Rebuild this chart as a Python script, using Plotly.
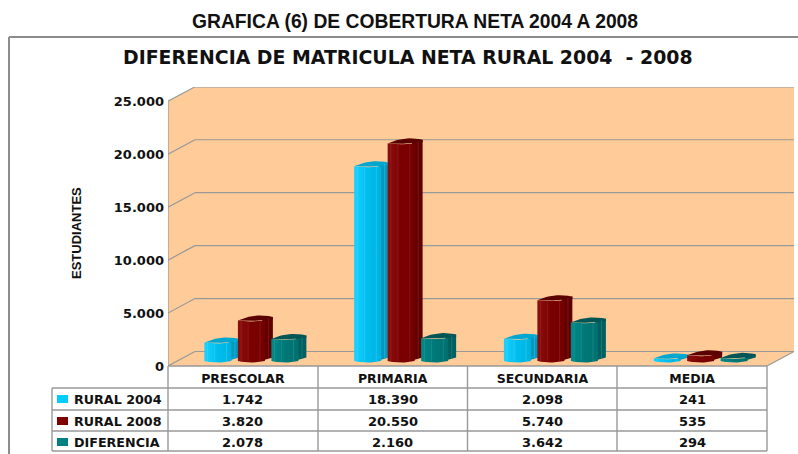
import plotly.graph_objects as go

categories = ["PRESCOLAR", "PRIMARIA", "SECUNDARIA", "MEDIA"]
series_names = ["RURAL 2004", "RURAL 2008", "DIFERENCIA"]
rural_2004 = [1742, 18390, 2098, 241]
rural_2008 = [3820, 20550, 5740, 535]
diferencia = [2078, 2160, 3642, 294]
y_ticks = [0, 5000, 10000, 15000, 20000, 25000]
y_labels = ["0", "5.000", "10.000", "15.000", "20.000", "25.000"]
table_labels = [
    ["1.742", "18.390", "2.098", "241"],
    ["3.820", "20.550", "5.740", "535"],
    ["2.078", "2.160", "3.642", "294"],
]

W, H = 798, 454
X_L, X_R, CAT_W = 168, 795, 149.75
Y_0, Y_T = 366, 87
VAL_PX = 264.7 / 25000
GRAY = "#999999"
WALL = "#FFCC99"
FONT = "DejaVu Sans"

xu = 1 / CAT_W          # category units per pixel
yu = 1 / VAL_PX         # value units per pixel
x_rng = [-0.5, -0.5 + (X_R - X_L) * xu]
y_rng = [0, (Y_0 - Y_T) * yu]
DX, DY = 27 * xu, 14.5 * yu
END = len(categories) - 0.5

fig = go.Figure()
shapes = []

def poly(pts):
    return "M" + " L".join(f"{x:.4f},{y:.2f}" for x, y in pts) + " Z"

# walls and floor
shapes.append(dict(type="path", xref="x", yref="y", layer="below", line_width=0, fillcolor=WALL,
                   path=poly([(-0.5, 0), (-0.5 + DX, DY), (END + DX, DY), (END, 0)])))
shapes.append(dict(type="path", xref="x", yref="y", layer="below", line_width=0, fillcolor=WALL,
                   path=poly([(-0.5, 0), (-0.5, 25000), (-0.5 + DX, 25000 + DY), (END + DX, 25000 + DY),
                              (END + DX, DY), (-0.5 + DX, DY)])))
for t in y_ticks:
    shapes.append(dict(type="line", xref="x", yref="y", layer="below", x0=-0.5, y0=t, x1=-0.5 + DX, y1=t + DY,
                       line=dict(color=GRAY, width=1.2)))
    shapes.append(dict(type="line", xref="x", yref="y", layer="below", x0=-0.5 + DX, y0=t + DY, x1=END + DX, y1=t + DY,
                       line=dict(color=GRAY, width=1.2)))
shapes.append(dict(type="line", xref="x", yref="y", layer="below", x0=END, y0=0, x1=END + DX, y1=DY,
                   line=dict(color=GRAY, width=1.2)))
shapes.append(dict(type="line", xref="x", yref="y", layer="below", x0=-0.5, y0=0, x1=-0.5, y1=25000,
                   line=dict(color=GRAY, width=1.2)))

# cylinders
PITCH = 33.5 * xu
BAR_W = 27 * xu
DEPTH_X, DEPTH_Y = 8 * xu, 4 * yu
BASE = 5 * yu
GROUP_START = -38.5 * xu
BULGE = 2.5 * yu
STYLES = [
    dict(front=[[0, "#1AD2FF"], [0.5, "#00BDEE"], [1, "#00B2E0"]], side="#0098BF", top="#00A8D0", rib="#66DDFF"),
    dict(front=[[0, "#8C0F0F"], [0.5, "#7A0000"], [1, "#740000"]], side="#620000", top="#5A0000", rib="#A84040"),
    dict(front=[[0, "#008A8A"], [0.5, "#007878"], [1, "#007070"]], side="#006060", top="#005555", rib="#4DA6A6"),
]
N = 16

def fill(xs, ys, **kw):
    fig.add_trace(go.Scatter(x=xs, y=ys, mode="lines", fill="toself", line=dict(width=0),
                             hoverinfo="skip", showlegend=False, **kw))

for s, values in enumerate([rural_2004, rural_2008, diferencia]):
    st = STYLES[s]
    for c, v in enumerate(values):
        x0 = c + GROUP_START + s * PITCH
        x1 = x0 + BAR_W
        top = BASE + v
        # side
        fill([x1 - BAR_W * 0.1, x1 + DEPTH_X, x1 + DEPTH_X, x1 - BAR_W * 0.1],
             [BASE + DEPTH_Y * 0.1, BASE + DEPTH_Y * 0.9, top + DEPTH_Y * 0.9, top + DEPTH_Y * 0.3],
             fillcolor=st["side"])
        # top cap
        capx, capy = [], []
        for i in range(N + 1):
            f = i / N
            bow = 4 * f * (1 - f)
            capx.append(x0 + f * (BAR_W + DEPTH_X))
            capy.append(top + DEPTH_Y * 0.9 * f + bow * DEPTH_Y * 0.75)
        for i in range(N + 1):
            f = 1 - i / N
            bow = 4 * f * (1 - f)
            capx.append(x0 + f * (BAR_W + DEPTH_X))
            capy.append(top + DEPTH_Y * 0.3 * f - bow * BULGE * 0.3)
        fill(capx, capy, fillcolor=st["top"])
        # front face
        fx, fy = [], []
        for i in range(N + 1):
            f = i / N
            fx.append(x0 + f * BAR_W)
            fy.append(top - 4 * f * (1 - f) * BULGE * 0.35)
        for i in range(N + 1):
            f = 1 - i / N
            fx.append(x0 + f * BAR_W)
            fy.append(BASE - 4 * f * (1 - f) * BULGE * 0.6)
        fill(fx, fy, fillgradient=dict(type="horizontal", colorscale=st["front"]))
        # ribs
        if v > 1000:
            for f in (0.12, 0.38, 0.82):
                fig.add_trace(go.Scatter(x=[x0 + f * BAR_W] * 2, y=[BASE, top], mode="lines",
                                         line=dict(color=st["rib"], width=0.6), opacity=0.55,
                                         hoverinfo="skip", showlegend=False))
            rx = x1 + DEPTH_X * 0.45
            fig.add_trace(go.Scatter(x=[rx] * 2, y=[BASE + DEPTH_Y * 0.7, top + DEPTH_Y * 0.6], mode="lines",
                                     line=dict(color=st["rib"], width=0.6), opacity=0.55,
                                     hoverinfo="skip", showlegend=False))

# pixel helpers for the table and frame only
def px(x):
    return x / W

def py(y):
    return 1 - y / H

def pline(x0, y0, x1, y1, width=1.4, color=GRAY):
    shapes.append(dict(type="line", xref="paper", yref="paper", x0=px(x0), y0=py(y0), x1=px(x1), y1=py(y1),
                       line=dict(color=color, width=width)))

COLS = [168, 318, 467.5, 617, 767]
ROWS = [366, 388, 410, 431, 451]
LEFT = 52
for x in COLS:
    pline(x, ROWS[0], x, ROWS[-1])
pline(LEFT, ROWS[1], LEFT, ROWS[-1])
pline(COLS[0], ROWS[0], COLS[-1], ROWS[0])
for y in ROWS[1:]:
    pline(LEFT, y, COLS[-1], y)

# outer frame
pline(9, 37, 798, 37, 2, "#8C8C8C")
pline(9, 37, 9, 454, 2, "#8C8C8C")

annotations = []

def note(x, y, text, size, family=FONT, **kw):
    kw.setdefault("xanchor", "center")
    annotations.append(dict(xref="paper", yref="paper", x=px(x), y=py(y), text=f"<b>{text}</b>", showarrow=False,
                            yanchor="middle", font=dict(family=family, size=size, color="#111111"), **kw))

note(415, 21, "GRAFICA (6) DE COBERTURA NETA 2004 A 2008", 19.3, family="Liberation Sans")
note(408.5, 57, "DIFERENCIA DE MATRICULA NETA RURAL 2004  - 2008", 18.9)
note(76, 233, "ESTUDIANTES", 13, family="Liberation Sans", textangle=-90)

colors = ["#00CCFF", "#800000", "#008080"]
row_y = [399, 421, 442]
for r, name in enumerate(series_names):
    shapes.append(dict(type="rect", xref="paper", yref="paper", x0=px(57), x1=px(68),
                       y0=py(row_y[r] - 4), y1=py(row_y[r] + 4), fillcolor=colors[r], line_width=0))
    note(72, row_y[r] + 0.5, name, 12.7, xanchor="left")
    for c in range(len(categories)):
        annotations.append(dict(xref="x", yref="paper", x=c, y=py(row_y[r]), text=f"<b>{table_labels[r][c]}</b>",
                                showarrow=False, xanchor="center", yanchor="middle",
                                font=dict(family=FONT, size=13, color="#111111")))

fig.update_layout(
    width=W, height=H, autosize=False, margin=dict(l=0, r=0, t=0, b=0, autoexpand=False),
    paper_bgcolor="white", plot_bgcolor="rgba(0,0,0,0)", showlegend=False,
    shapes=shapes, annotations=annotations,
    xaxis=dict(domain=[X_L / W, X_R / W], range=x_rng, tickmode="array", tickvals=list(range(len(categories))),
               ticktext=[f"<b>{c}</b>" for c in categories], showgrid=False, zeroline=False, showline=False,
               ticks="", ticklabelstandoff=3, tickfont=dict(family=FONT, size=12.5, color="#111111")),
    yaxis=dict(domain=[1 - Y_0 / H, 1 - Y_T / H], range=y_rng, tickmode="array", tickvals=y_ticks,
               ticktext=[f"<b>{t}</b>" for t in y_labels], showgrid=False, zeroline=False, showline=False,
               ticks="", ticklabelstandoff=3, tickfont=dict(family=FONT, size=13, color="#111111")),
)

fig.write_html("out.html", config=dict(displayModeBar=False), post_script="document.body.style.margin='0';")
